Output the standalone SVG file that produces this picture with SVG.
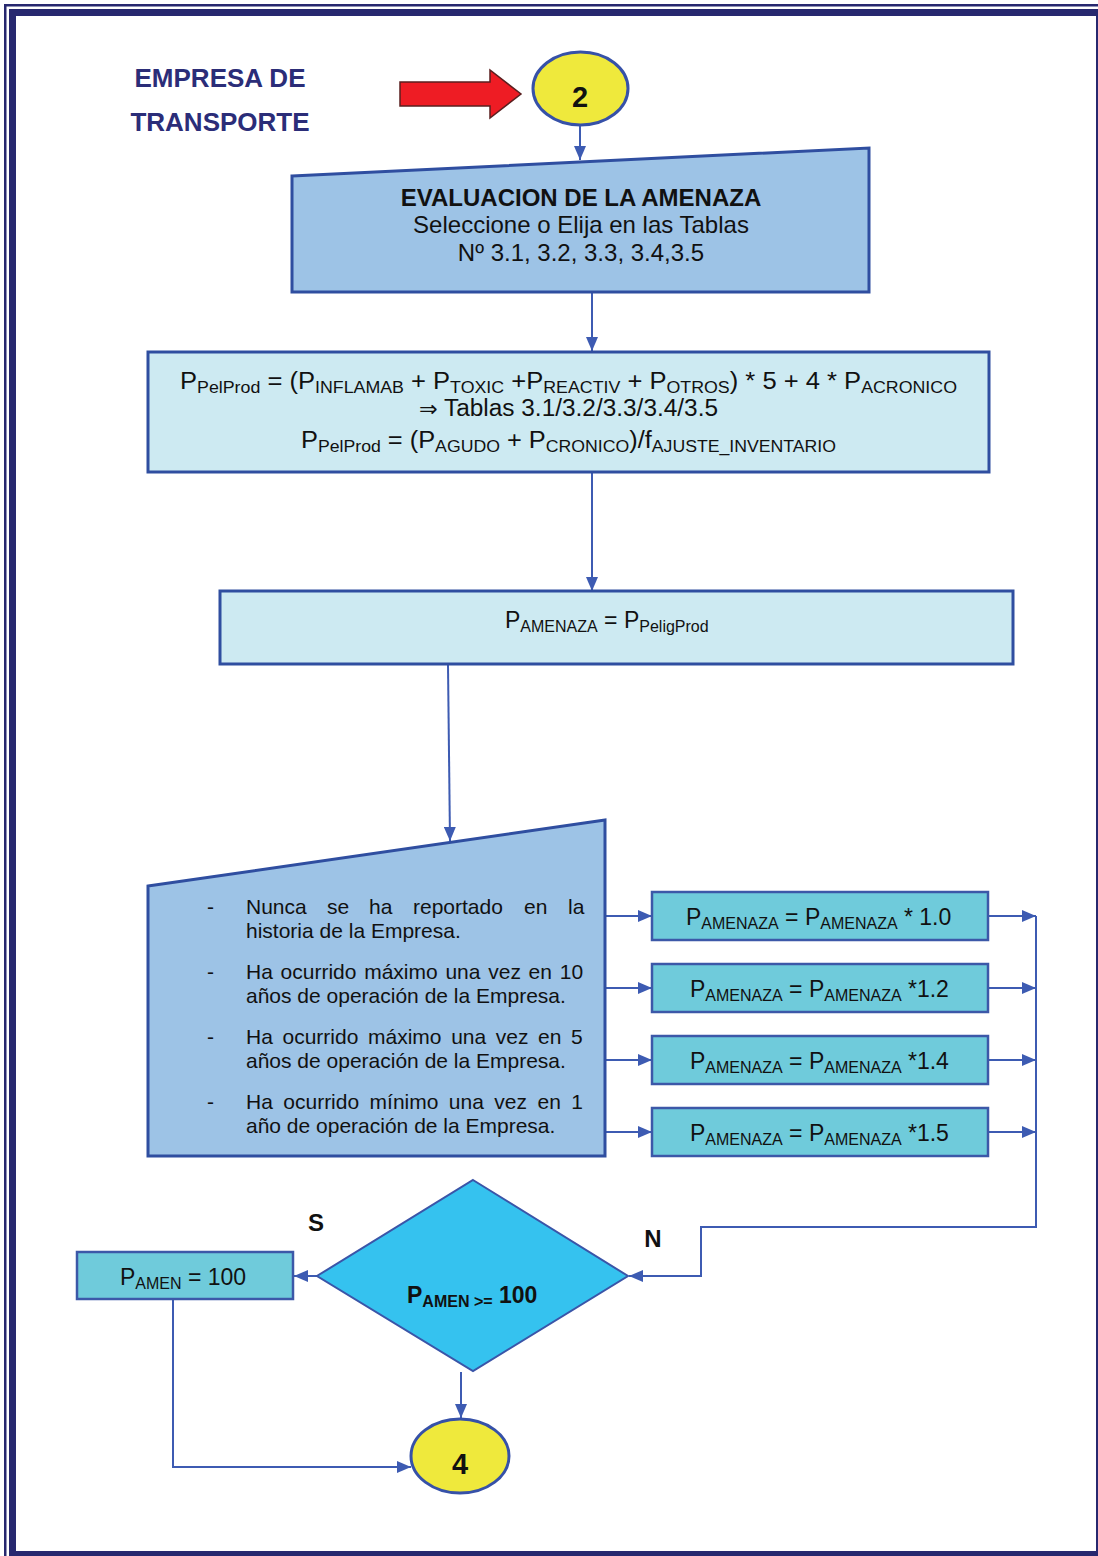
<svg xmlns="http://www.w3.org/2000/svg" width="1098" height="1556" viewBox="0 0 1098 1556">
  <style>
    text { font-family: "Liberation Sans", Arial, sans-serif; fill: #111; }
    .title { font-size: 26px; font-weight: bold; fill: #2b2d78; text-anchor: middle; }
    .conn { fill: none; stroke: #3d5bb2; stroke-width: 2; }
    .trap { fill: #9dc3e6; stroke: #2f4ea0; stroke-width: 3; }
    .calc { fill: #cdeaf2; stroke: #2f4ea0; stroke-width: 3; }
    .fact { fill: #6fcbdb; stroke: #3c58a8; stroke-width: 2.5; }
    .term { fill: #efe93c; stroke: #3651a8; stroke-width: 3; }
    .mid { text-anchor: middle; }
    .f24 { font-size: 24px; }
    .f23 { font-size: 23px; }
    .f21 { font-size: 21px; }
    .sub { font-size: 16px; }
    .b { font-weight: bold; }
  </style>
  <defs>
    <marker id="ah" markerWidth="14" markerHeight="12" refX="14" refY="6" orient="auto" markerUnits="userSpaceOnUse">
      <path d="M0,0 L14,6 L0,12 z" fill="#3d5bb2"/>
    </marker>
  </defs>

  <rect width="1098" height="1556" fill="#ffffff"/>

  <!-- page frame: thin outer rule and heavy inner rule -->
  <g id="frame" fill="#27286f">
    <rect x="4" y="4" width="2.5" height="1552"/>
    <rect x="4" y="4" width="1094" height="2.5"/>
    <rect x="9" y="9" width="7" height="1547"/>
    <rect x="9" y="9" width="1089" height="7"/>
    <rect x="1096" y="9" width="2" height="1547"/>
    <rect x="9" y="1551" width="1089" height="5"/>
  </g>

  <g id="heading">
    <text class="title" x="220" y="87">EMPRESA DE</text>
    <text class="title" x="220" y="131">TRANSPORTE</text>
  </g>

  <g id="pointer">
    <polygon points="400,82 490,82 490,70 521,94 490,118 490,106 400,106" fill="#ee1c24" stroke="#5a1f1f" stroke-width="1.5"/>
  </g>

  <g id="start">
    <ellipse class="term" cx="580.5" cy="88.5" rx="47.5" ry="36.5"/>
    <text class="mid b" x="580" y="107" font-size="29">2</text>
  </g>

  <g id="connectors">
    <path class="conn" d="M580,126 L580,160" marker-end="url(#ah)"/>
    <path class="conn" d="M592,293 L592,351" marker-end="url(#ah)"/>
    <path class="conn" d="M592,473 L592,591" marker-end="url(#ah)"/>
    <path class="conn" d="M448,665 L450,841" marker-end="url(#ah)"/>
    <path class="conn" d="M606,916 L652,916" marker-end="url(#ah)"/>
    <path class="conn" d="M606,988 L652,988" marker-end="url(#ah)"/>
    <path class="conn" d="M606,1060 L652,1060" marker-end="url(#ah)"/>
    <path class="conn" d="M606,1132 L652,1132" marker-end="url(#ah)"/>
    <path class="conn" d="M989,916 L1036,916" marker-end="url(#ah)"/>
    <path class="conn" d="M989,988 L1036,988" marker-end="url(#ah)"/>
    <path class="conn" d="M989,1060 L1036,1060" marker-end="url(#ah)"/>
    <path class="conn" d="M989,1132 L1036,1132" marker-end="url(#ah)"/>
    <path class="conn" d="M1036,916 L1036,1227 L701,1227 L701,1276 L629,1276" marker-end="url(#ah)"/>
    <path class="conn" d="M317,1276 L294,1276" marker-end="url(#ah)"/>
    <path class="conn" d="M461,1372 L461,1418" marker-end="url(#ah)"/>
    <path class="conn" d="M173,1300 L173,1467 L411,1467" marker-end="url(#ah)"/>
  </g>

  <g id="evaluacion">
    <polygon class="trap" points="292,176 869,148 869,292 292,292"/>
    <text class="mid b f24" x="581" y="206">EVALUACION DE LA AMENAZA</text>
    <text class="mid f24" x="581" y="233">Seleccione o Elija en las Tablas</text>
    <text class="mid f24" x="581" y="261">Nº 3.1, 3.2, 3.3, 3.4,3.5</text>
  </g>

  <g id="peligrosidad">
    <rect class="calc" x="148" y="352" width="841" height="120"/>
    <text class="f23" x="180" y="389" textLength="777" lengthAdjust="spacingAndGlyphs">P<tspan class="sub" dy="4">PelProd</tspan><tspan dy="-4"> = (P</tspan><tspan class="sub" dy="4">INFLAMAB</tspan><tspan dy="-4"> + P</tspan><tspan class="sub" dy="4">TOXIC</tspan><tspan dy="-4">  +P</tspan><tspan class="sub" dy="4">REACTIV</tspan><tspan dy="-4"> + P</tspan><tspan class="sub" dy="4">OTROS</tspan><tspan dy="-4">) * 5 + 4 * P</tspan><tspan class="sub" dy="4">ACRONICO</tspan></text>
    <text class="f23" x="419" y="416" textLength="299" lengthAdjust="spacingAndGlyphs"><tspan font-family="DejaVu Sans" font-size="21">⇒</tspan> Tablas 3.1/3.2/3.3/3.4/3.5</text>
    <text class="f23" x="301" y="448" textLength="535" lengthAdjust="spacingAndGlyphs">P<tspan class="sub" dy="4">PelProd</tspan><tspan dy="-4"> = (P</tspan><tspan class="sub" dy="4">AGUDO</tspan><tspan dy="-4"> + P</tspan><tspan class="sub" dy="4">CRONICO</tspan><tspan dy="-4">)/f</tspan><tspan class="sub" dy="4">AJUSTE_INVENTARIO</tspan></text>
  </g>

  <g id="amenaza">
    <rect class="calc" x="220" y="591" width="793" height="73"/>
    <text class="f23" x="505" y="628">P<tspan class="sub" dy="4">AMENAZA</tspan><tspan dy="-4"> = P</tspan><tspan class="sub" dy="4">PeligProd</tspan></text>
  </g>

  <g id="frecuencia">
    <polygon class="trap" points="148,886 605,820 605,1156 148,1156"/>
    <g class="f21">
      <text x="207" y="914">-</text>
      <text y="914"><tspan x="246">Nunca</tspan><tspan x="327">se</tspan><tspan x="369">ha</tspan><tspan x="413">reportado</tspan><tspan x="524">en</tspan><tspan x="568">la</tspan></text>
      <text x="246" y="938">historia de la Empresa.</text>
      <text x="207" y="979">-</text>
      <text x="246" y="979" word-spacing="1.9">Ha ocurrido máximo una vez en 10</text>
      <text x="246" y="1003">años de operación de la Empresa.</text>
      <text x="207" y="1044">-</text>
      <text x="246" y="1044" word-spacing="3.8">Ha ocurrido máximo una vez en 5</text>
      <text x="246" y="1068">años de operación de la Empresa.</text>
      <text x="207" y="1109">-</text>
      <text x="246" y="1109" word-spacing="4.6">Ha ocurrido mínimo una vez en 1</text>
      <text x="246" y="1133">año de operación de la Empresa.</text>
    </g>
  </g>

  <g id="factor-10">
    <rect class="fact" x="652" y="892" width="336" height="48"/>
    <text class="f23" x="686" y="925">P<tspan class="sub" dy="4">AMENAZA</tspan><tspan dy="-4"> = P</tspan><tspan class="sub" dy="4">AMENAZA</tspan><tspan dy="-4"> * 1.0</tspan></text>
  </g>
  <g id="factor-12">
    <rect class="fact" x="652" y="964" width="336" height="48"/>
    <text class="f23" x="690" y="997">P<tspan class="sub" dy="4">AMENAZA</tspan><tspan dy="-4"> = P</tspan><tspan class="sub" dy="4">AMENAZA</tspan><tspan dy="-4"> *1.2</tspan></text>
  </g>
  <g id="factor-14">
    <rect class="fact" x="652" y="1036" width="336" height="48"/>
    <text class="f23" x="690" y="1069">P<tspan class="sub" dy="4">AMENAZA</tspan><tspan dy="-4"> = P</tspan><tspan class="sub" dy="4">AMENAZA</tspan><tspan dy="-4"> *1.4</tspan></text>
  </g>
  <g id="factor-15">
    <rect class="fact" x="652" y="1108" width="336" height="48"/>
    <text class="f23" x="690" y="1141">P<tspan class="sub" dy="4">AMENAZA</tspan><tspan dy="-4"> = P</tspan><tspan class="sub" dy="4">AMENAZA</tspan><tspan dy="-4"> *1.5</tspan></text>
  </g>

  <g id="decision">
    <polygon points="473,1180 628,1276 473,1371 317,1276" fill="#35c2ef" stroke="#3a55a8" stroke-width="2"/>
    <text class="b" x="407" y="1303" font-size="23">P<tspan class="sub" dy="4">AMEN &gt;=</tspan><tspan dy="-4"> 100</tspan></text>
  </g>

  <g id="labels">
    <text class="mid b" x="316" y="1231" font-size="24">S</text>
    <text class="mid b" x="653" y="1247" font-size="24">N</text>
  </g>

  <g id="tope">
    <rect class="fact" x="77" y="1252" width="216" height="47"/>
    <text class="f23" x="120" y="1285">P<tspan class="sub" dy="4">AMEN</tspan><tspan dy="-4"> = 100</tspan></text>
  </g>

  <g id="end">
    <ellipse class="term" cx="460" cy="1456" rx="49" ry="37"/>
    <text class="mid b" x="460" y="1474" font-size="29">4</text>
  </g>
</svg>
